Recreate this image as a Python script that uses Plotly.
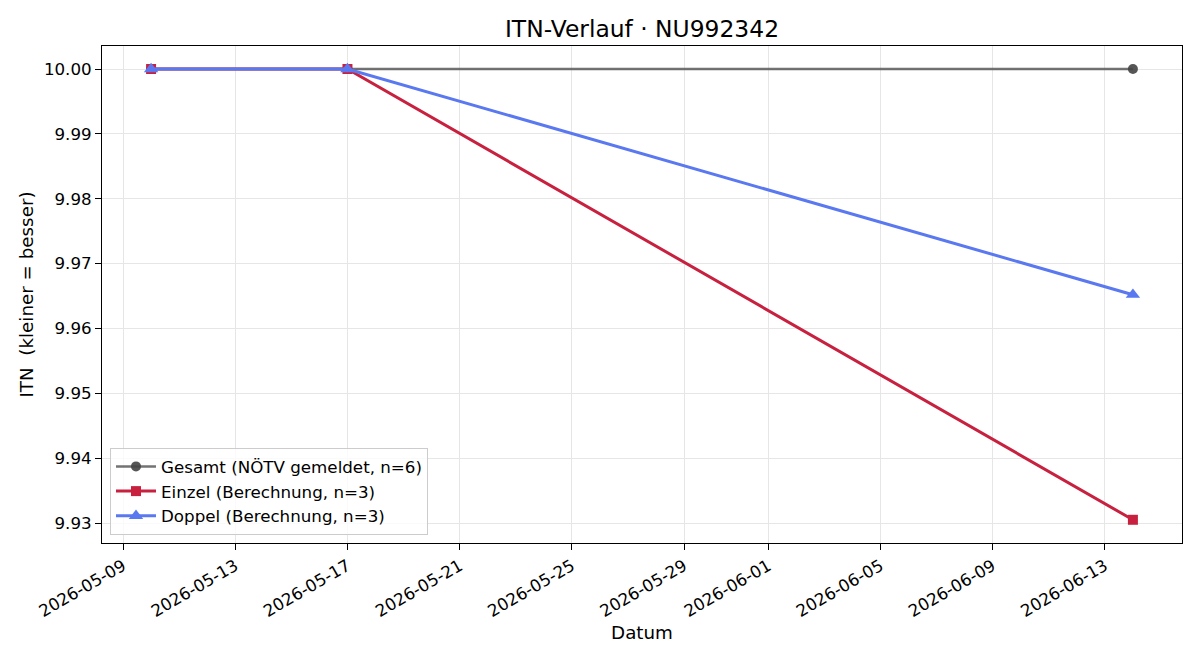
import plotly.graph_objects as go

# ---- data ----
gesamt_dates = ["2026-05-10", "2026-05-17", "2026-06-14"]
gesamt_itn = [10.0, 10.0, 10.0]

einzel_dates = ["2026-05-10", "2026-05-17", "2026-06-14"]
einzel_itn = [10.0, 10.0, 9.9305]

doppel_dates = ["2026-05-10", "2026-05-17", "2026-06-14"]
doppel_itn = [10.0, 10.0, 9.9652]

x_tick_labels = ["2026-05-09", "2026-05-13", "2026-05-17", "2026-05-21", "2026-05-25",
                 "2026-05-29", "2026-06-01", "2026-06-05", "2026-06-09", "2026-06-13"]
y_tick_values = [9.93, 9.94, 9.95, 9.96, 9.97, 9.98, 9.99, 10.00]

FONT = "DejaVu Sans"

fig = go.Figure()
fig.add_trace(go.Scatter(
    x=gesamt_dates, y=gesamt_itn, mode="lines+markers",
    name="Gesamt (NÖTV gemeldet, n=6)",
    line=dict(color="rgba(68,68,68,0.75)", width=2.5),
    marker=dict(symbol="circle", size=10, color="rgba(68,68,68,0.9)"),
))
fig.add_trace(go.Scatter(
    x=einzel_dates, y=einzel_itn, mode="lines+markers",
    name="Einzel (Berechnung, n=3)",
    line=dict(color="#c8203f", width=3),
    marker=dict(symbol="square", size=10, color="#c8203f"),
))
fig.add_trace(go.Scatter(
    x=doppel_dates, y=doppel_itn, mode="lines+markers",
    name="Doppel (Berechnung, n=3)",
    line=dict(color="#5a78f0", width=3),
    marker=dict(symbol="triangle-up", size=12.5, color="#5a78f0"),
))

fig.update_layout(
    width=1200, height=660,
    margin=dict(l=102, r=18, t=46, b=117),
    paper_bgcolor="white", plot_bgcolor="white",
    font=dict(family=FONT, size=16.7, color="black"),
    title=dict(text="ITN-Verlauf · NU992342", x=0.5, xref="paper", xanchor="center",
               y=1 - 29 / 660, yref="container", yanchor="middle",
               font=dict(family=FONT, size=23.4, color="black")),
    showlegend=True,
    legend=dict(x=0.0074, y=0.016, xanchor="left", yanchor="bottom",
                bgcolor="rgba(255,255,255,0.8)", bordercolor="#cccccc", borderwidth=1,
                font=dict(family=FONT, size=16.7, color="black"),
                tracegroupgap=0, itemwidth=40),
)

fig.update_xaxes(
    type="date",
    range=["2026-05-08 06:00", "2026-06-15 18:00"],
    tickmode="array", tickvals=x_tick_labels, ticktext=x_tick_labels,
    tickangle=-30, ticks="outside", ticklen=6, tickcolor="black", tickwidth=1,
    tickfont=dict(family=FONT, size=16.7, color="black"),
    showgrid=True, gridcolor="#e6e6e6", gridwidth=1,
    showline=True, linecolor="black", linewidth=1, mirror=True,
    zeroline=False,
    title=dict(text="Datum", font=dict(family=FONT, size=18.3, color="black"), standoff=6),
)
fig.update_yaxes(
    range=[9.92692, 10.00355],
    tickmode="array", tickvals=y_tick_values,
    ticktext=[f"{v:.2f}" for v in y_tick_values],
    ticks="outside", ticklen=6, tickcolor="black", tickwidth=1,
    tickfont=dict(family=FONT, size=16.7, color="black"),
    showgrid=True, gridcolor="#e6e6e6", gridwidth=1,
    showline=True, linecolor="black", linewidth=1, mirror=True,
    zeroline=False,
    title=dict(text="ITN\u00a0 (kleiner = besser)", font=dict(family=FONT, size=18.3, color="black"), standoff=5),
)

fig.write_html("out.html")
